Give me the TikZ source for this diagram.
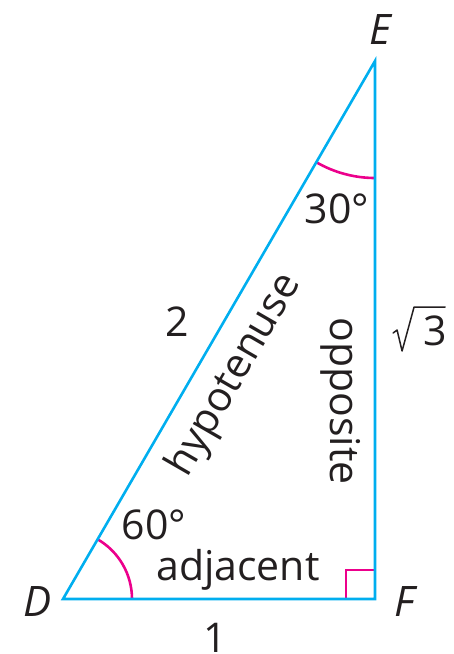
\documentclass[tikz,border=0pt]{standalone}
\usepackage{fontspec}
\setmainfont{Open Sans}
\definecolor{edgeblue}{RGB}{0,174,239}
\definecolor{markmag}{RGB}{236,0,140}
\definecolor{ink}{RGB}{35,31,32}
\begin{document}
\begin{tikzpicture}[x=1pt,y=-1pt,
  side/.style={draw=edgeblue,line width=2.6pt,line join=miter},
  angmark/.style={draw=markmag,line width=2.6pt},
  lbl/.style={text=ink,font=\fontsize{41}{44}\selectfont,inner sep=0pt},
  vlbl/.style={text=ink,font=\fontsize{42}{44}\selectfont\itshape,inner sep=0pt}]
\useasboundingbox (0,0) rectangle (453,654);
\coordinate (D) at (63,599);
\coordinate (F) at (375,599);
\coordinate (E) at (375,61);
% right angle mark
\draw[angmark] (346,599) -- (346,570) -- (375,570);
% angle arcs
\draw[angmark] (D) ++(0:69) arc[start angle=0,end angle=-60,radius=69];
\draw[angmark] (E) ++(90:117) arc[start angle=90,end angle=120,radius=117];
\draw[side] (D) -- (F) -- (E) -- cycle;
\node[vlbl] (lD) at (38,602) {D};
\node[vlbl] (lF) at (405,602) {F};
\node[vlbl] (lE) at (380,30) {E};
\node[lbl] (one) at (215,638) {1};
\node[lbl] (two) at (177,322) {2};
\node[lbl] (r3) at (435,331) {3};
\draw[ink,line width=1.5pt,line join=round,line cap=round]
  (r3.west) ++(-30,2) -- ++(4,-3) -- ++(5,21) -- ++(12,-44) -- ++(31,0);
\node[lbl] (a30) at (337,209) {30°};
\node[lbl] (a60) at (154,525) {60°};
\node[lbl] (adj) at (238,570) {adjacent};
\node[lbl,rotate=60] (hyp) at (235,375) {hypotenuse};
\node[lbl,rotate=-90] (opp) at (341,401) {opposite};
\end{tikzpicture}
\end{document}
